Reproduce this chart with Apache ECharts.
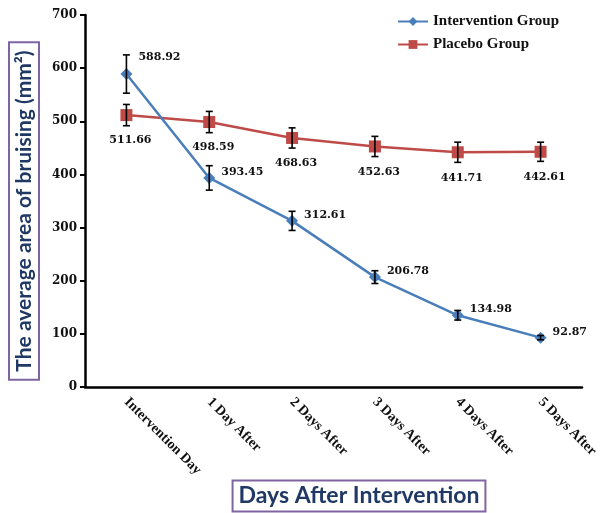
<!DOCTYPE html>
<html>
<head>
<meta charset="utf-8">
<script src="https://cdn.jsdelivr.net/npm/echarts@6/dist/echarts.min.js"></script>
<style>
  html, body { margin: 0; padding: 0; background: #fff; }
  #chart { width: 601px; height: 513px; }
</style>
</head>
<body>
<div id="chart"></div>
<script>
const categories = ['Intervention Day', '1 Day After', '2 Days After', '3 Days After', '4 Days After', '5 Days After']
const intervention = [588.92, 393.45, 312.61, 206.78, 134.98, 92.87]
const interventionErr = [36, 23, 18, 12, 9, 4]
const placebo = [511.66, 498.59, 468.63, 452.63, 441.71, 442.61]
const placeboErr = [20, 20, 19, 19, 19, 18]

const BLUE = '#4a7ebb'
const RED = '#be4b48'
const SERIF = '"DejaVu Serif", serif'
const TIMES = '"Liberation Serif", serif'

function errBars(name, vals, errs) {
  return {
    type: 'custom',
    name: name + ' err',
    z: 5,
    silent: true,
    data: vals.map((v, i) => [i, v - errs[i], v + errs[i]]),
    renderItem(params, api) {
      const lo = api.coord([api.value(0), api.value(1)])
      const hi = api.coord([api.value(0), api.value(2)])
      const w = 3.5
      const st = { stroke: '#000', lineWidth: 1.6 }
      return {
        type: 'group',
        children: [
          { type: 'line', shape: { x1: lo[0], y1: lo[1], x2: hi[0], y2: hi[1] }, style: st },
          { type: 'line', shape: { x1: lo[0] - w, y1: lo[1], x2: lo[0] + w, y2: lo[1] }, style: st },
          { type: 'line', shape: { x1: hi[0] - w, y1: hi[1], x2: hi[0] + w, y2: hi[1] }, style: st }
        ]
      }
    }
  }
}

const chart = echarts.init(document.getElementById('chart'))
chart.setOption({
  animation: false,
  grid: { left: 85, right: 19, top: 15, bottom: 126 },
  legend: {
    data: ['Intervention Group', 'Placebo Group'],
    orient: 'vertical',
    left: 392,
    top: 9,
    itemWidth: 30,
    itemHeight: 11,
    itemGap: 8,
    textStyle: { fontFamily: TIMES, fontWeight: 'bold', fontSize: 15, color: '#111' }
  },
  xAxis: {
    type: 'category',
    data: categories,
    axisLine: { lineStyle: { color: '#000', width: 2.5 } },
    axisTick: { alignWithLabel: true, length: 4, lineStyle: { color: '#000', width: 2 } },
    axisLabel: { rotate: -45, margin: 13, fontFamily: TIMES, fontWeight: 'bold', fontSize: 14, color: '#111' }
  },
  yAxis: {
    type: 'value',
    min: 0, max: 700, interval: 100,
    splitLine: { show: false },
    axisLine: { show: true, lineStyle: { color: '#000', width: 2.5 } },
    axisTick: { show: true, length: 5, lineStyle: { color: '#000', width: 2 } },
    axisLabel: { margin: 8, fontFamily: SERIF, fontWeight: 'bold', fontSize: 12, color: '#111' }
  },
  graphic: [
    {
      type: 'text', x: 24, y: 211, rotation: Math.PI / 2,
      style: {
        text: 'The average area of bruising (mm²)',
        font: 'bold 21px Lato, "Open Sans", sans-serif',
        fill: '#1f3864', align: 'center', verticalAlign: 'middle',
        borderColor: '#8064a2', borderWidth: 2, padding: [6, 8, 3, 8]
      }
    },
    {
      type: 'text', x: 359, y: 496,
      style: {
        text: 'Days After Intervention',
        font: 'bold 23px Lato, "Open Sans", sans-serif',
        fill: '#1f3864', align: 'center', verticalAlign: 'middle',
        borderColor: '#8064a2', borderWidth: 2, padding: [5, 6, 3, 6]
      }
    }
  ],
  series: [
    {
      name: 'Placebo Group',
      type: 'line',
      data: placebo,
      symbol: 'rect', symbolSize: 12,
      color: RED,
      lineStyle: { width: 2.5, color: RED },
      label: {
        show: true, position: 'bottom', distance: 14, offset: [4, 0],
        fontFamily: SERIF, fontWeight: 'bold', fontSize: 11, color: '#111'
      }
    },
    {
      name: 'Intervention Group',
      type: 'line',
      data: intervention.map((v, i) => i === 0
        ? { value: v, label: { position: 'right', offset: [0, -17] } }
        : v),
      symbol: 'diamond', symbolSize: 12,
      color: BLUE,
      lineStyle: { width: 2.5, color: BLUE },
      label: {
        show: true, position: 'right', distance: 6, offset: [0, -6],
        fontFamily: SERIF, fontWeight: 'bold', fontSize: 11, color: '#111'
      }
    },
    errBars('Placebo Group', placebo, placeboErr),
    errBars('Intervention Group', intervention, interventionErr)
  ]
})
</script>
</body>
</html>
